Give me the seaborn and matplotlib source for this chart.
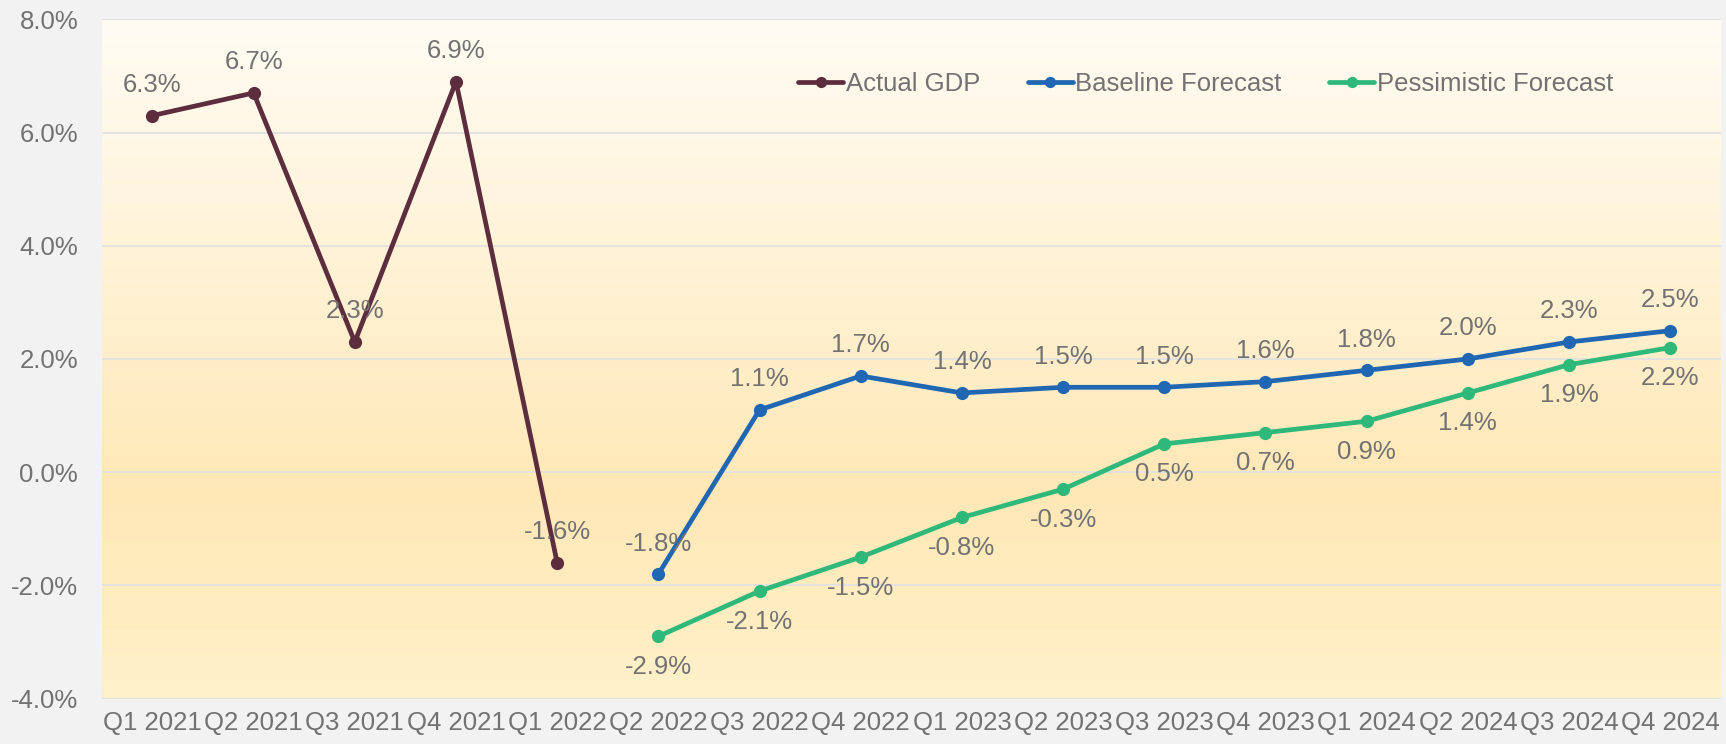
import matplotlib
matplotlib.use("Agg")
import matplotlib.pyplot as plt
from matplotlib.colors import LinearSegmentedColormap
from matplotlib.lines import Line2D
import seaborn as sns
import pandas as pd
import numpy as np

quarters = ["Q1 2021", "Q2 2021", "Q3 2021", "Q4 2021",
            "Q1 2022", "Q2 2022", "Q3 2022", "Q4 2022",
            "Q1 2023", "Q2 2023", "Q3 2023", "Q4 2023",
            "Q1 2024", "Q2 2024", "Q3 2024", "Q4 2024"]

actual_q = ["Q1 2021", "Q2 2021", "Q3 2021", "Q4 2021", "Q1 2022"]
actual = [6.3, 6.7, 2.3, 6.9, -1.6]

forecast_q = ["Q2 2022", "Q3 2022", "Q4 2022", "Q1 2023", "Q2 2023", "Q3 2023",
              "Q4 2023", "Q1 2024", "Q2 2024", "Q3 2024", "Q4 2024"]
baseline = [-1.8, 1.1, 1.7, 1.4, 1.5, 1.5, 1.6, 1.8, 2.0, 2.3, 2.5]
pessimistic = [-2.9, -2.1, -1.5, -0.8, -0.3, 0.5, 0.7, 0.9, 1.4, 1.9, 2.2]

series_names = ["Actual GDP", "Baseline Forecast", "Pessimistic Forecast"]
colors = {"Actual GDP": "#5C2D3C", "Baseline Forecast": "#1F66B3",
          "Pessimistic Forecast": "#2EB87A"}

rows = []
for q, v in zip(actual_q, actual):
    rows.append(("Actual GDP", q, v))
for q, v in zip(forecast_q, baseline):
    rows.append(("Baseline Forecast", q, v))
for q, v in zip(forecast_q, pessimistic):
    rows.append(("Pessimistic Forecast", q, v))
df = pd.DataFrame(rows, columns=["series", "quarter", "value"])
df["pos"] = df["quarter"].map({q: i for i, q in enumerate(quarters)})

sns.set_theme(style="white")
plt.rcParams["font.family"] = ["Liberation Sans", "DejaVu Sans"]
text_grey = "#727272"
lw, ms = 3.4, 9.5

fig = plt.figure(figsize=(17.26, 7.44), dpi=100, facecolor="#F2F2F2")
ax = fig.add_axes([0.059, 0.061, 0.938, 0.913])

# plot area gradient, cream on top to warm yellow near the bottom
grad = LinearSegmentedColormap.from_list(
    "bg", [(0.0, "#FFF1CA"), (0.3, "#FFE8B6"), (0.6, "#FFF1D2"), (1.0, "#FFFCF4")])
ax.imshow(np.linspace(0, 1, 256).reshape(-1, 1), cmap=grad, origin="lower",
          aspect="auto", extent=(0, 1, 0, 1), transform=ax.transAxes, zorder=0)

sns.lineplot(data=df, x="pos", y="value", hue="series", hue_order=series_names,
             palette=colors, marker="o", markersize=ms, markeredgewidth=0,
             linewidth=lw, legend=False, ax=ax, zorder=3)

# data labels
for name, qs, vals, dy in [("Actual GDP", actual_q, actual, 22),
                           ("Baseline Forecast", forecast_q, baseline, 22),
                           ("Pessimistic Forecast", forecast_q, pessimistic, -22)]:
    for q, v in zip(qs, vals):
        ax.annotate(f"{v:.1f}%", (quarters.index(q), v), xytext=(0, dy),
                    textcoords="offset points", ha="center", va="center",
                    fontsize=18.5, color=text_grey, zorder=4)

ax.set_xlim(-0.5, len(quarters) - 0.5)
ax.set_ylim(-4, 8)
ax.set_yticks(np.arange(-4, 8.1, 2))
ax.set_yticklabels([f"{t:.1f}%" for t in np.arange(-4, 8.1, 2)])
ax.set_xticks(range(len(quarters)))
ax.set_xticklabels(quarters)
ax.tick_params(axis="both", length=0, labelsize=18.5, labelcolor=text_grey)
ax.tick_params(axis="y", pad=17)
ax.tick_params(axis="x", pad=9)
ax.set_xlabel("")
ax.set_ylabel("")
ax.grid(axis="y", color="#E4E2E0", linewidth=1.4, zorder=1)
ax.grid(axis="x", visible=False)
ax.set_axisbelow(True)
for s in ax.spines.values():
    s.set_visible(False)

handles = [Line2D([], [], color=colors[n], linewidth=lw, marker="o",
                  markersize=ms * 0.85, markeredgewidth=0) for n in series_names]
leg = ax.legend(handles, series_names, loc="center left",
                bbox_to_anchor=(0.416, 0.905), ncol=3, frameon=False,
                fontsize=18.5, handlelength=1.75, handletextpad=0.1,
                columnspacing=1.85)
for t in leg.get_texts():
    t.set_color(text_grey)

fig.savefig("out.png", dpi=100, facecolor=fig.get_facecolor())
